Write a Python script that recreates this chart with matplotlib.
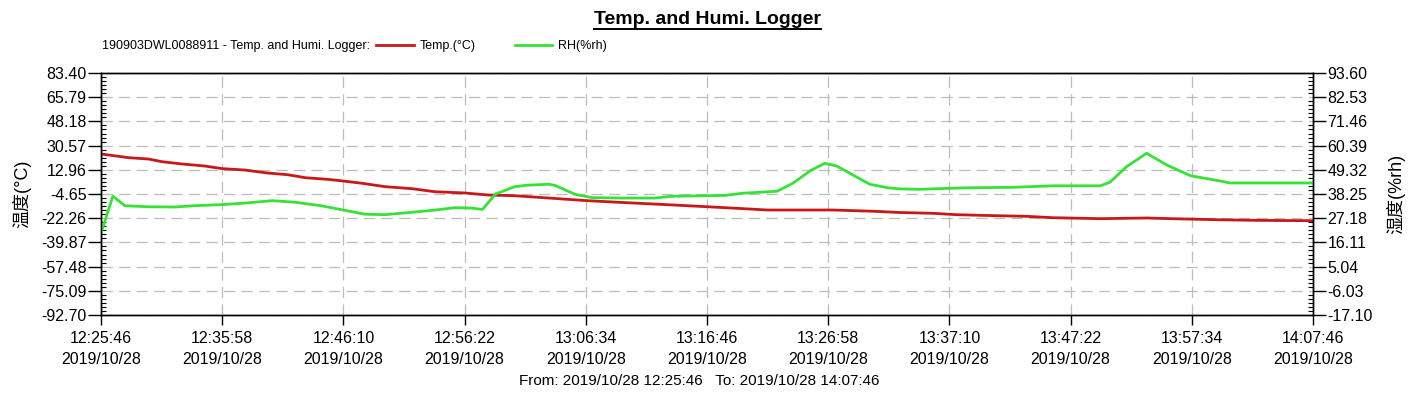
import matplotlib
matplotlib.use("Agg")
import matplotlib.pyplot as plt
from matplotlib.ticker import AutoMinorLocator
from matplotlib.lines import Line2D

plt.rcParams['font.family'] = ['Liberation Sans', 'Noto Sans CJK SC', 'DejaVu Sans']

# ---------------- data ----------------
# minutes since 2019/10/28 12:25:46
temp_minutes = [0.0, 2.3, 4.0, 5.1, 6.8, 8.75, 10.2, 12.1, 14.05, 15.7, 17.2, 19.1, 20.4,
                22.0, 23.9, 26.2, 28.1, 30.6, 32.6, 34.8, 37.2, 40.9, 44.3, 47.6, 51.0,
                54.0, 56.1, 61.6, 65.0, 67.2, 70.0, 72.0, 75.1, 77.9, 80.1, 84.1, 88.0,
                90.0, 94.2, 97.0, 102.0]
temp_values = [24.5, 21.8, 20.8, 18.9, 17.2, 15.7, 13.8, 12.8, 10.6, 9.4, 7.2, 6.0, 4.8,
               3.1, 0.7, -0.8, -3.0, -3.9, -5.4, -5.9, -7.3, -9.5, -11.0, -12.4, -13.9,
               -15.3, -16.3, -16.3, -17.2, -18.1, -18.7, -19.7, -20.4, -20.9, -21.9, -22.6, -22.1,
               -22.6, -23.4, -23.8, -24.1]

rh_minutes = [0.0, 1.0, 2.0, 4.0, 6.2, 7.9, 10.2, 12.1, 14.4, 16.3, 18.5, 20.4, 22.2,
              23.9, 26.2, 28.1, 29.8, 31.2, 32.1, 33.2, 34.8, 35.9, 37.7, 38.2, 39.9,
              41.3, 43.8, 46.6, 48.0, 52.5, 54.0, 56.9, 58.2, 59.7, 60.9, 61.9, 63.3,
              64.7, 66.2, 67.2, 68.9, 72.2, 73.2, 76.7, 80.1, 84.1, 84.9, 86.3, 88.0,
              89.7, 91.7, 94.2, 95.0, 102.0]
rh_values = [20.3, 37.3, 32.9, 32.4, 32.3, 32.9, 33.4, 34.1, 35.2, 34.5, 32.9, 30.9, 29.0,
             28.8, 29.9, 30.9, 32.0, 31.8, 31.2, 38.2, 41.6, 42.3, 42.7, 42.2, 38.1,
             36.6, 36.4, 36.4, 37.2, 37.6, 38.6, 39.5, 43.1, 48.9, 52.3, 51.1, 46.9,
             42.7, 41.1, 40.6, 40.4, 41.0, 41.1, 41.3, 42.0, 42.0, 43.6, 50.7, 56.9,
             51.5, 46.6, 44.2, 43.3, 43.3]

x_tick_times = ["12:25:46", "12:35:58", "12:46:10", "12:56:22", "13:06:34", "13:16:46",
                "13:26:58", "13:37:10", "13:47:22", "13:57:34", "14:07:46"]
x_tick_date = "2019/10/28"
temp_ticks = [83.40, 65.79, 48.18, 30.57, 12.96, -4.65, -22.26, -39.87, -57.48, -75.09, -92.70]
rh_ticks = [93.60, 82.53, 71.46, 60.39, 49.32, 38.25, 27.18, 16.11, 5.04, -6.03, -17.10]

title = "Temp. and Humi. Logger"
device = "190903DWL0088911 - Temp. and Humi. Logger:"
temp_name = "Temp.(°C)"
rh_name = "RH(%rh)"
temp_axis_label = "温度(°C)"
rh_axis_label = "湿度(%rh)"
footer = "From: 2019/10/28 12:25:46   To: 2019/10/28 14:07:46"

# ---------------- figure ----------------
W, H = 1414, 398
fig = plt.figure(figsize=(W / 100, H / 100), dpi=100)
ax = fig.add_axes([101 / W, 1 - 315 / H, 1212 / W, 242 / H])
ax2 = ax.twinx()

red = '#C81818'
green = '#36E236'

l1, = ax.plot(temp_minutes, temp_values, color=red, lw=2.0, solid_joinstyle='round')
l2, = ax2.plot(rh_minutes, rh_values, color=green, lw=2.0, solid_joinstyle='round')

ax.set_xlim(0, 102)
ax.set_ylim(temp_ticks[-1], temp_ticks[0])
ax2.set_ylim(rh_ticks[-1], rh_ticks[0])

TF = 11.5
xt = [i * 10.2 for i in range(len(x_tick_times))]
ax.set_xticks(xt)
ax.set_xticklabels([f"{t}\n{x_tick_date}" for t in x_tick_times], fontsize=TF)
for lbl in ax.get_xticklabels():
    lbl.set_linespacing(1.55)
ax.tick_params(axis='x', length=7.2, width=1, pad=4, color='black')

ax.set_yticks(temp_ticks)
ax.set_yticklabels([f"{v:.2f}" for v in temp_ticks], fontsize=TF)
ax2.set_yticks(rh_ticks)
ax2.set_yticklabels([f"{v:.2f}" for v in rh_ticks], fontsize=TF)

for a in (ax, ax2):
    a.yaxis.set_minor_locator(AutoMinorLocator(6))
    a.tick_params(axis='y', which='major', length=9.4, width=1, pad=1, direction='out')
    a.tick_params(axis='y', which='minor', length=3.8, width=0.8, direction='in')
    for s in a.spines.values():
        s.set_color('black')
        s.set_linewidth(1.0)
ax2.tick_params(axis='x', which='both', length=0)

ax.grid(True, which='major', axis='both', color='#BDBDBD', lw=0.9, linestyle=(0, (9, 5)))
ax.set_axisbelow(True)

ax.set_ylabel(temp_axis_label, fontsize=13, labelpad=7)
ax2.set_ylabel(rh_axis_label, fontsize=13, labelpad=10)

# title with underline
t = fig.text(0.5, 1 - 19 / H, title, ha='center', va='center', fontsize=14, fontweight='bold')
fig.canvas.draw()
bb = t.get_window_extent()
fig.add_artist(Line2D([bb.x0 / W, bb.x1 / W], [(bb.y0 - 1) / H, (bb.y0 - 1) / H],
                      color='black', lw=1.4, transform=fig.transFigure))

# legend row
fig.text(102 / W, 1 - 46 / H, device, ha='left', va='center', fontsize=9)
fig.legend([l1, l2], [temp_name, rh_name], loc='center left',
           bbox_to_anchor=(376 / W, 1 - 46 / H), ncol=2, frameon=False,
           fontsize=9, handlelength=3.0, handletextpad=0.5, columnspacing=3.1,
           borderpad=0, borderaxespad=0)

fig.text(699 / W, 1 - 381 / H, footer, ha='center', va='center', fontsize=11)

fig.savefig("out.png", dpi=100)
